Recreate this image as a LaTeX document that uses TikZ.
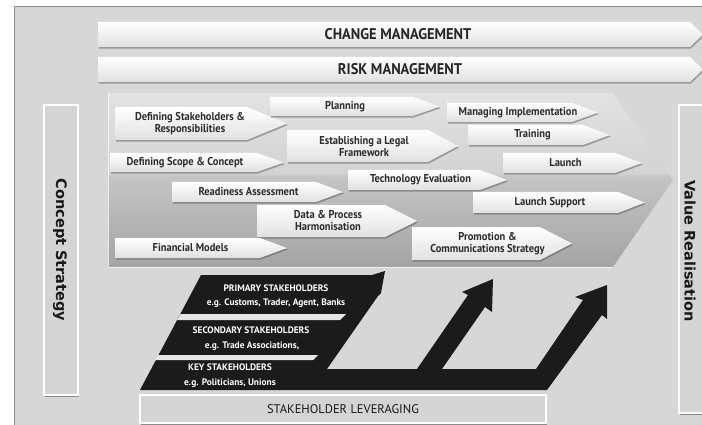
\documentclass[tikz,border=0pt]{standalone}
\usepackage{fontspec}
\setmainfont{PT Sans}
\newfontfamily\narrowfont[FakeStretch=0.92]{PT Sans}
\newfontfamily\bannerfont[FakeStretch=0.93]{PT Sans}
\newfontfamily\sidefont{DejaVu Sans}
\usetikzlibrary{shadows,shadings}

\definecolor{panelgray}{HTML}{D7D7D7}
\definecolor{chevA}{HTML}{A4A4A4}
\definecolor{chevB}{HTML}{C4C4C4}
\definecolor{chevC}{HTML}{D3D3D3}
\definecolor{chevD}{HTML}{E2E2E2}
\definecolor{tagtxt}{HTML}{2C2C2C}
\definecolor{blackband}{HTML}{1B1B1B}
\definecolor{gapgray}{HTML}{E6E6E6}
\definecolor{boxgray}{HTML}{D4D4D4}

% vertical shading of the large process chevron (bottom -> top)
\pgfdeclareverticalshading{chevshade}{100bp}{%
  color(0bp)=(chevA); color(25bp)=(chevA); color(51bp)=(chevB);
  color(52bp)=(chevC); color(75bp)=(chevD); color(100bp)=(chevD)}

% one white step arrow: #1 left x, #2 top y, #3 bottom y, #4 end of body, #5 tip x
\newcommand\steparrow[5]{%
  \path[tagshape] (#1,#2) -- (#4,#2) -- (#5,{(#2+#3)/2}) -- (#4,#3) -- (#1,#3) -- cycle;}

\begin{document}
\begin{tikzpicture}[x=1pt,y=-1pt,
  tagshape/.style={top color=white, bottom color=black!12,
    drop shadow={opacity=0.45, shadow xshift=0.8pt, shadow yshift=-1.6pt, fill=black!70}},
  tagtext/.style={font=\narrowfont\bfseries\fontsize{11.4}{12}\selectfont,
    text=tagtxt, align=center, inner sep=0pt},
  bantext/.style={font=\bannerfont\bfseries\fontsize{15.5}{17}\selectfont, text=black!85, inner sep=0pt},
  blktext/.style={font=\bfseries\fontsize{9.4}{11}\selectfont, text=white, inner sep=0pt},
  levtext/.style={font=\fontsize{12.5}{14}\selectfont, text=black!90, inner sep=0pt},
  sidetext/.style={font=\sidefont\bfseries\fontsize{14.5}{17}\selectfont, text=black!90, rotate=-90, inner sep=0pt},
  sidebox/.style={fill=boxgray, draw=white, line width=1.6pt,
    drop shadow={opacity=0.5, shadow xshift=0.6pt, shadow yshift=-1.8pt, fill=black!75}}
]
\clip (0,0) rectangle (702,425);
\fill[white] (0,0) rectangle (702,425);

% grey panel
\fill[panelgray] (14,6) rectangle (704,427);
\draw[black!45, line width=0.8pt] (14,427) -- (14,6) -- (704,6);

% management banners
\steparrow{98}{22}{47}{690}{703}
\node[bantext] (change) at (398,34.5) {CHANGE MANAGEMENT};
\steparrow{98}{57}{82}{690}{703}
\node[bantext] (risk) at (400,69.5) {RISK MANAGEMENT};

% side boxes
\path[sidebox] (44,105) rectangle (78,395);
\node[sidetext] (concept) at (60,250) {Concept Strategy};
\path[sidebox] (679,105) rectangle (712,413);
\node[sidetext] (value) at (690,251) {Value Realisation};

% process chevron
\shade[shading=chevshade] (108,93) -- (613,93) -- (673,180) -- (613,267) -- (108,267) -- cycle;
\draw[white, opacity=0.7, line width=0.8pt] (108,93) -- (108,267) -- (613,267);

% process steps
\steparrow{115}{107}{140}{247}{287}
\node[tagtext] (stake) at (190,123.5) {Defining Stakeholders \&\\Responsibilities};
\steparrow{270}{97}{116}{413}{440}
\node[tagtext] (plan) at (345,106.5) {Planning};
\steparrow{287}{130}{162}{428}{458}
\node[tagtext] (legal) at (364,146.5) {Establishing a Legal\\Framework};
\steparrow{110}{153}{172}{257}{284}
\node[tagtext] (scope) at (185,162.5) {Defining Scope \& Concept};
\steparrow{172}{182}{202}{316}{343}
\node[tagtext] (ready) at (248.5,192) {Readiness Assessment};
\steparrow{348}{170}{190}{480}{507}
\node[tagtext] (tech) at (420.5,180) {Technology Evaluation};
\steparrow{257}{205}{237}{385}{417}
\node[tagtext] (data) at (328,221) {Data \& Process\\Harmonisation};
\steparrow{115}{238}{258}{260}{287}
\node[tagtext] (fin) at (190.5,248) {Financial Models};
\steparrow{447}{103}{122}{572}{598}
\node[tagtext] (manage) at (518,112.5) {Managing Implementation};
\steparrow{468}{125}{145}{583}{610}
\node[tagtext] (train) at (532.5,135) {Training};
\steparrow{503}{153}{173}{615}{642}
\node[tagtext] (launch) at (565.5,163) {Launch};
\steparrow{473}{192}{213}{618}{645}
\node[tagtext] (support) at (550,202.5) {Launch Support};
\steparrow{412}{227}{260}{540}{572}
\node[tagtext] (promo) at (487.5,243.5) {Promotion \&\\Communications Strategy};

% stakeholder bands and leverage arrows
\fill[blackband] (140,390) -- (201,275) -- (372,275) -- (385,271) -- (381,293) -- (378,296)
  -- (327,369) -- (417,369) -- (468,295) -- (462,292) -- (493,279) -- (492,312) -- (485,307)
  -- (442,369) -- (536,369) -- (583,300) -- (575,297) -- (607,285) -- (607,319) -- (602,315)
  -- (547,390) -- cycle;
\fill[gapgray] (180.5,314) -- (346,314) -- (340,320) -- (177.2,320) -- cycle;
\fill[gapgray] (157.8,355) -- (318,355) -- (313,360) -- (155.1,360) -- cycle;

\node[blktext] (prim) at (276,288) {PRIMARY STAKEHOLDERS};
\node[blktext] (primeg) at (276,303.5) {e.g. Customs, Trader, Agent, Banks};
\node[blktext] (sec) at (251,330) {SECONDARY STAKEHOLDERS};
\node[blktext] (seceg) at (252,346.5) {e.g. Trade Associations,};
\node[blktext] (key) at (230,367) {KEY STAKEHOLDERS};
\node[blktext] (keyeg) at (230,383) {e.g. Politicians, Unions};

% leveraging bar
\path[sidebox] (140,395) rectangle (546,423);
\node[levtext] (lever) at (343,409) {STAKEHOLDER LEVERAGING};
\end{tikzpicture}
\end{document}
